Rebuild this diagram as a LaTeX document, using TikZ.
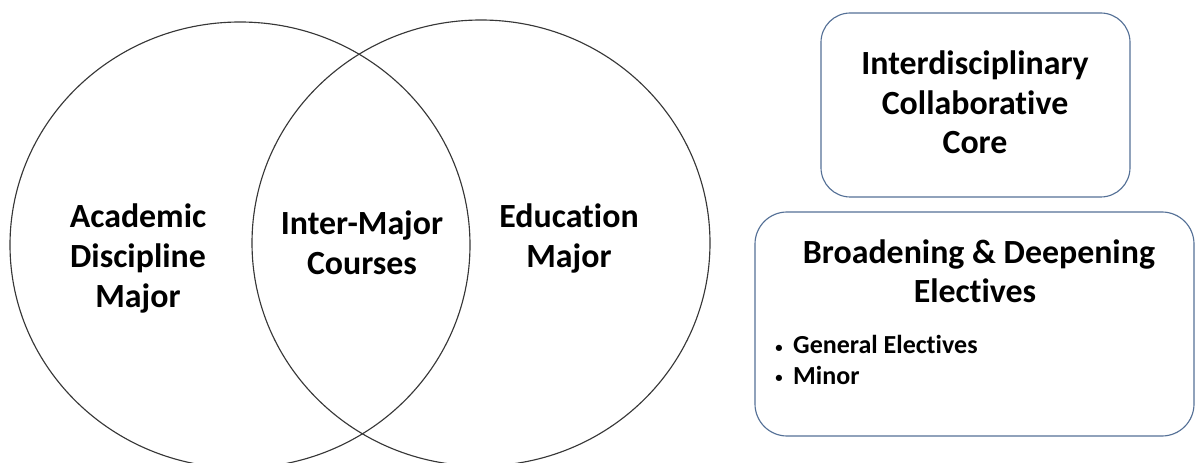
\documentclass[tikz,border=0pt]{standalone}
\usepackage{fontspec}
\setmainfont{Carlito}[Ligatures=NoCommon]
\definecolor{boxline}{RGB}{84,112,150}
\definecolor{ringline}{RGB}{55,55,55}
\newcommand{\smallbul}{\raisebox{1.5pt}{\fontsize{11}{11}\selectfont\textbullet}}
\begin{document}
\begin{tikzpicture}[x=0.75pt,y=-0.75pt,
  ring/.style={draw=ringline,line width=0.85pt},
  roundbox/.style={draw=boxline,line width=0.85pt},
  head/.style={anchor=base,inner sep=0pt,font=\fontsize{25.4}{30}\selectfont\bfseries},
  item/.style={anchor=base west,inner sep=0pt,font=\fontsize{19.5}{23}\selectfont\bfseries}]
\useasboundingbox (0,0) rectangle (1197,463);
\clip (0,0) rectangle (1197,463);
% Venn circles
\draw[ring] (240,245) ellipse [x radius=230, y radius=223];
\draw[ring] (481,243) ellipse [x radius=229, y radius=223];
% left circle text
\node[head] (acad) at (138,228) {Academic};
\node[head] (disc) at (138,268) {Discipline};
\node[head] (majl) at (138,308) {Major};
% intersection text
\node[head] (inter) at (362,235) {Inter-Major};
\node[head] (cour) at (362,275) {Courses};
% right circle text
\node[head] (educ) at (569,228) {Education};
\node[head] (majr) at (569,268) {Major};
% top box
\draw[roundbox,rounded corners=22pt] (821,13) rectangle (1130,197);
\node[head] (idc1) at (975,75) {Interdisciplinary};
\node[head] (idc2) at (975,115) {Collaborative};
\node[head] (idc3) at (975,154) {Core};
% bottom box
\draw[roundbox,rounded corners=24pt] (755,212) rectangle (1194,436);
\node[head] (bde1) at (979,264) {Broadening \& Deepening};
\node[head] (bde2) at (975,303) {Electives};
\node[item] (gen) at (775,354) {\smallbul\hspace{8pt}General Electives};
\node[item] (mnr) at (775,385) {\smallbul\hspace{8pt}Minor};
\end{tikzpicture}
\end{document}
